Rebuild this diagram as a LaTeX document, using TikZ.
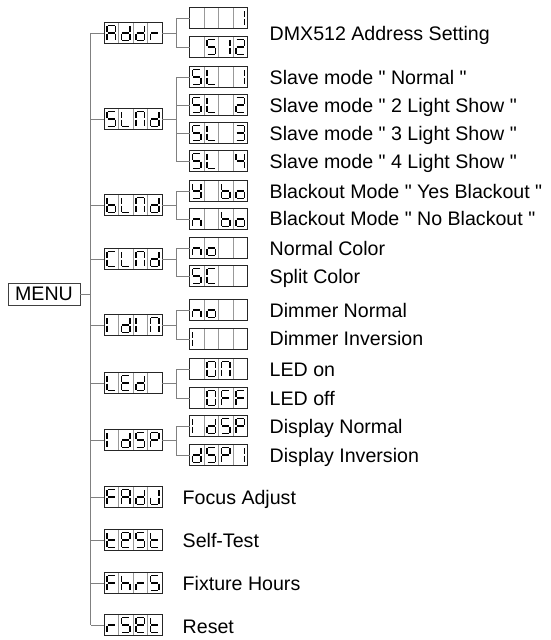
\documentclass[tikz,border=0pt]{standalone}
\usepackage{fontspec}
\newfontfamily\lbfont{Liberation Sans}
\tikzset{
  conn/.style={draw=black!50, line width=0.8pt},
  disp/.style={draw=black!85, line width=0.9pt, minimum width=58pt, minimum height=21pt, inner sep=0pt, outer sep=0pt},
  div/.style={draw=black!40, line width=0.6pt},
  seg/.style={line width=1.6pt, line cap=butt},
  lbl/.style={anchor=base west, inner sep=0pt, font=\lbfont\fontsize{19.6}{22}\selectfont},
  menubox/.style={draw=black!75, line width=0.9pt, minimum width=72pt, minimum height=22pt, inner sep=0pt, outer sep=0pt, font=\lbfont\fontsize{19.6}{22}\selectfont}
}
\def\sga{\draw[seg] (3.5,3.1) -- (10.7,3.1);}
\def\sgb{\draw[seg] (11.3,3.8) -- (11.3,9.9);}
\def\sgc{\draw[seg] (11.3,11.1) -- (11.3,17.2);}
\def\sgd{\draw[seg] (3.5,17.9) -- (10.7,17.9);}
\def\sge{\draw[seg] (2.9,11.1) -- (2.9,17.2);}
\def\sgf{\draw[seg] (2.9,3.8) -- (2.9,9.9);}
\def\sgg{\draw[seg] (3.5,10.5) -- (10.7,10.5);}
\newcommand\segcell[3]{\begin{scope}[shift={(#1,#2)}]\foreach \s in {#3}{\csname sg\s\endcsname}\end{scope}}
\newcommand\dispbox[7]{%
  \foreach \i in {1,2,3}{\draw[div] (#2-29+14.5*\i,#3-10.5) -- (#2-29+14.5*\i,#3+10.5);}
  \node[disp] (#1) at (#2,#3) {};
  \segcell{#2-29}{#3-10.5}{#4}%
  \segcell{#2-14.5}{#3-10.5}{#5}%
  \segcell{#2}{#3-10.5}{#6}%
  \segcell{#2+14.5}{#3-10.5}{#7}%
}
\begin{document}
\begin{tikzpicture}[x=1pt,y=-1pt]
\useasboundingbox (0,0) rectangle (551,640);
% MENU
\node[menubox] (menu) at (44,294) {MENU};
% level 1
\dispbox{addr}{133}{33}{a,b,c,e,f,g}{b,c,d,e,g}{b,c,d,e,g}{e,g}
\dispbox{slmd}{133}{119}{a,f,g,c,d}{d,e,f}{a,b,c,e,f}{b,c,d,e,g}
\dispbox{blmd}{133}{205}{c,d,e,f,g}{d,e,f}{a,b,c,e,f}{b,c,d,e,g}
\dispbox{clmd}{133}{259}{a,d,e,f}{d,e,f}{a,b,c,e,f}{b,c,d,e,g}
\dispbox{idin}{133}{325}{e,f}{b,c,d,e,g}{e,f}{a,b,c,e,f}
\dispbox{led}{133}{383}{d,e,f}{a,d,e,f,g}{b,c,d,e,g}{}
\dispbox{idsp}{133}{440}{e,f}{b,c,d,e,g}{a,f,g,c,d}{a,b,e,f,g}
\dispbox{fadj}{133}{497}{a,e,f,g}{a,b,c,e,f,g}{b,c,d,e,g}{b,c,d,e}
\dispbox{test}{133}{540}{d,e,f,g}{a,b,d,e,f,g}{a,f,g,c,d}{d,e,f,g}
\dispbox{fhrs}{133}{583}{a,e,f,g}{c,e,f,g}{e,g}{a,f,g,c,d}
\dispbox{rset}{133}{625}{e,g}{a,f,g,c,d}{a,b,d,e,f,g}{d,e,f,g}
% level 2
\dispbox{addrA}{218.5}{18}{}{}{}{b,c}
\dispbox{addrB}{218.5}{47}{}{a,f,g,c,d}{b,c}{a,b,g,e,d}
\dispbox{slA}{218.5}{77}{a,f,g,c,d}{d,e,f}{}{b,c}
\dispbox{slB}{218.5}{105}{a,f,g,c,d}{d,e,f}{}{a,b,g,e,d}
\dispbox{slC}{218.5}{133}{a,f,g,c,d}{d,e,f}{}{a,b,g,c,d}
\dispbox{slD}{218.5}{161}{a,f,g,c,d}{d,e,f}{}{f,g,b,c}
\dispbox{blA}{218.5}{191}{b,c,d,f,g}{}{c,d,e,f,g}{c,d,e,g}
\dispbox{blB}{218.5}{219}{c,e,g}{}{c,d,e,f,g}{c,d,e,g}
\dispbox{clA}{218.5}{248}{c,e,g}{c,d,e,g}{}{}
\dispbox{clB}{218.5}{276}{a,f,g,c,d}{a,d,e,f}{}{}
\dispbox{diA}{218.5}{310}{c,e,g}{c,d,e,g}{}{}
\dispbox{diB}{218.5}{339}{e,f}{}{}{}
\dispbox{leA}{218.5}{369}{}{a,b,c,d,e,f}{a,b,c,e,f}{}
\dispbox{leB}{218.5}{398}{}{a,b,c,d,e,f}{a,e,f,g}{a,e,f,g}
\dispbox{dsA}{218.5}{426}{e,f}{b,c,d,e,g}{a,f,g,c,d}{a,b,e,f,g}
\dispbox{dsB}{218.5}{455}{b,c,d,e,g}{a,f,g,c,d}{a,b,e,f,g}{b,c}
% connectors
\coordinate (tk) at (90.5,0);
\draw[conn] (menu.east) -- (menu.east -| tk);
\draw[conn] (addr.west -| tk) -- (rset.west -| tk);
\foreach \n in {addr,slmd,blmd,clmd,idin,led,idsp,fadj,test,fhrs,rset}
  {\draw[conn] (\n.west) -- (\n.west -| tk);}
\foreach \p/\c in {addr/addrA,addr/addrB,slmd/slA,slmd/slB,slmd/slC,slmd/slD,
  blmd/blA,blmd/blB,clmd/clA,clmd/clB,idin/diA,idin/diB,led/leA,led/leB,idsp/dsA,idsp/dsB}
  {\draw[conn] (\p.east) -- ++(14,0) |- (\c.west);}
% labels
\node[lbl] (tA) at (269.5,40) {DMX512 Address Setting};
\node[lbl] (tB) at (269.5,84) {Slave mode " Normal "};
\node[lbl] (tC) at (269.5,112) {Slave mode " 2 Light Show "};
\node[lbl] (tD) at (269.5,140) {Slave mode " 3 Light Show "};
\node[lbl] (tE) at (269.5,168) {Slave mode " 4 Light Show "};
\node[lbl] (tF) at (269.5,198) {Blackout Mode " Yes Blackout "};
\node[lbl] (tG) at (269.5,225) {Blackout Mode " No Blackout "};
\node[lbl] (tH) at (269.5,255) {Normal Color};
\node[lbl] (tI) at (269.5,283) {Split Color};
\node[lbl] (tJ) at (269.5,317) {Dimmer Normal};
\node[lbl] (tK) at (269.5,345) {Dimmer Inversion};
\node[lbl] (tL) at (269.5,376) {LED on};
\node[lbl] (tM) at (269.5,405) {LED off};
\node[lbl] (tN) at (269.5,433) {Display Normal};
\node[lbl] (tO) at (269.5,462) {Display Inversion};
\node[lbl] (tP) at (182.5,504) {Focus Adjust};
\node[lbl] (tQ) at (182.5,547) {Self-Test};
\node[lbl] (tR) at (182.5,590) {Fixture Hours};
\node[lbl] (tS) at (182.5,633) {Reset};
\end{tikzpicture}
\end{document}
